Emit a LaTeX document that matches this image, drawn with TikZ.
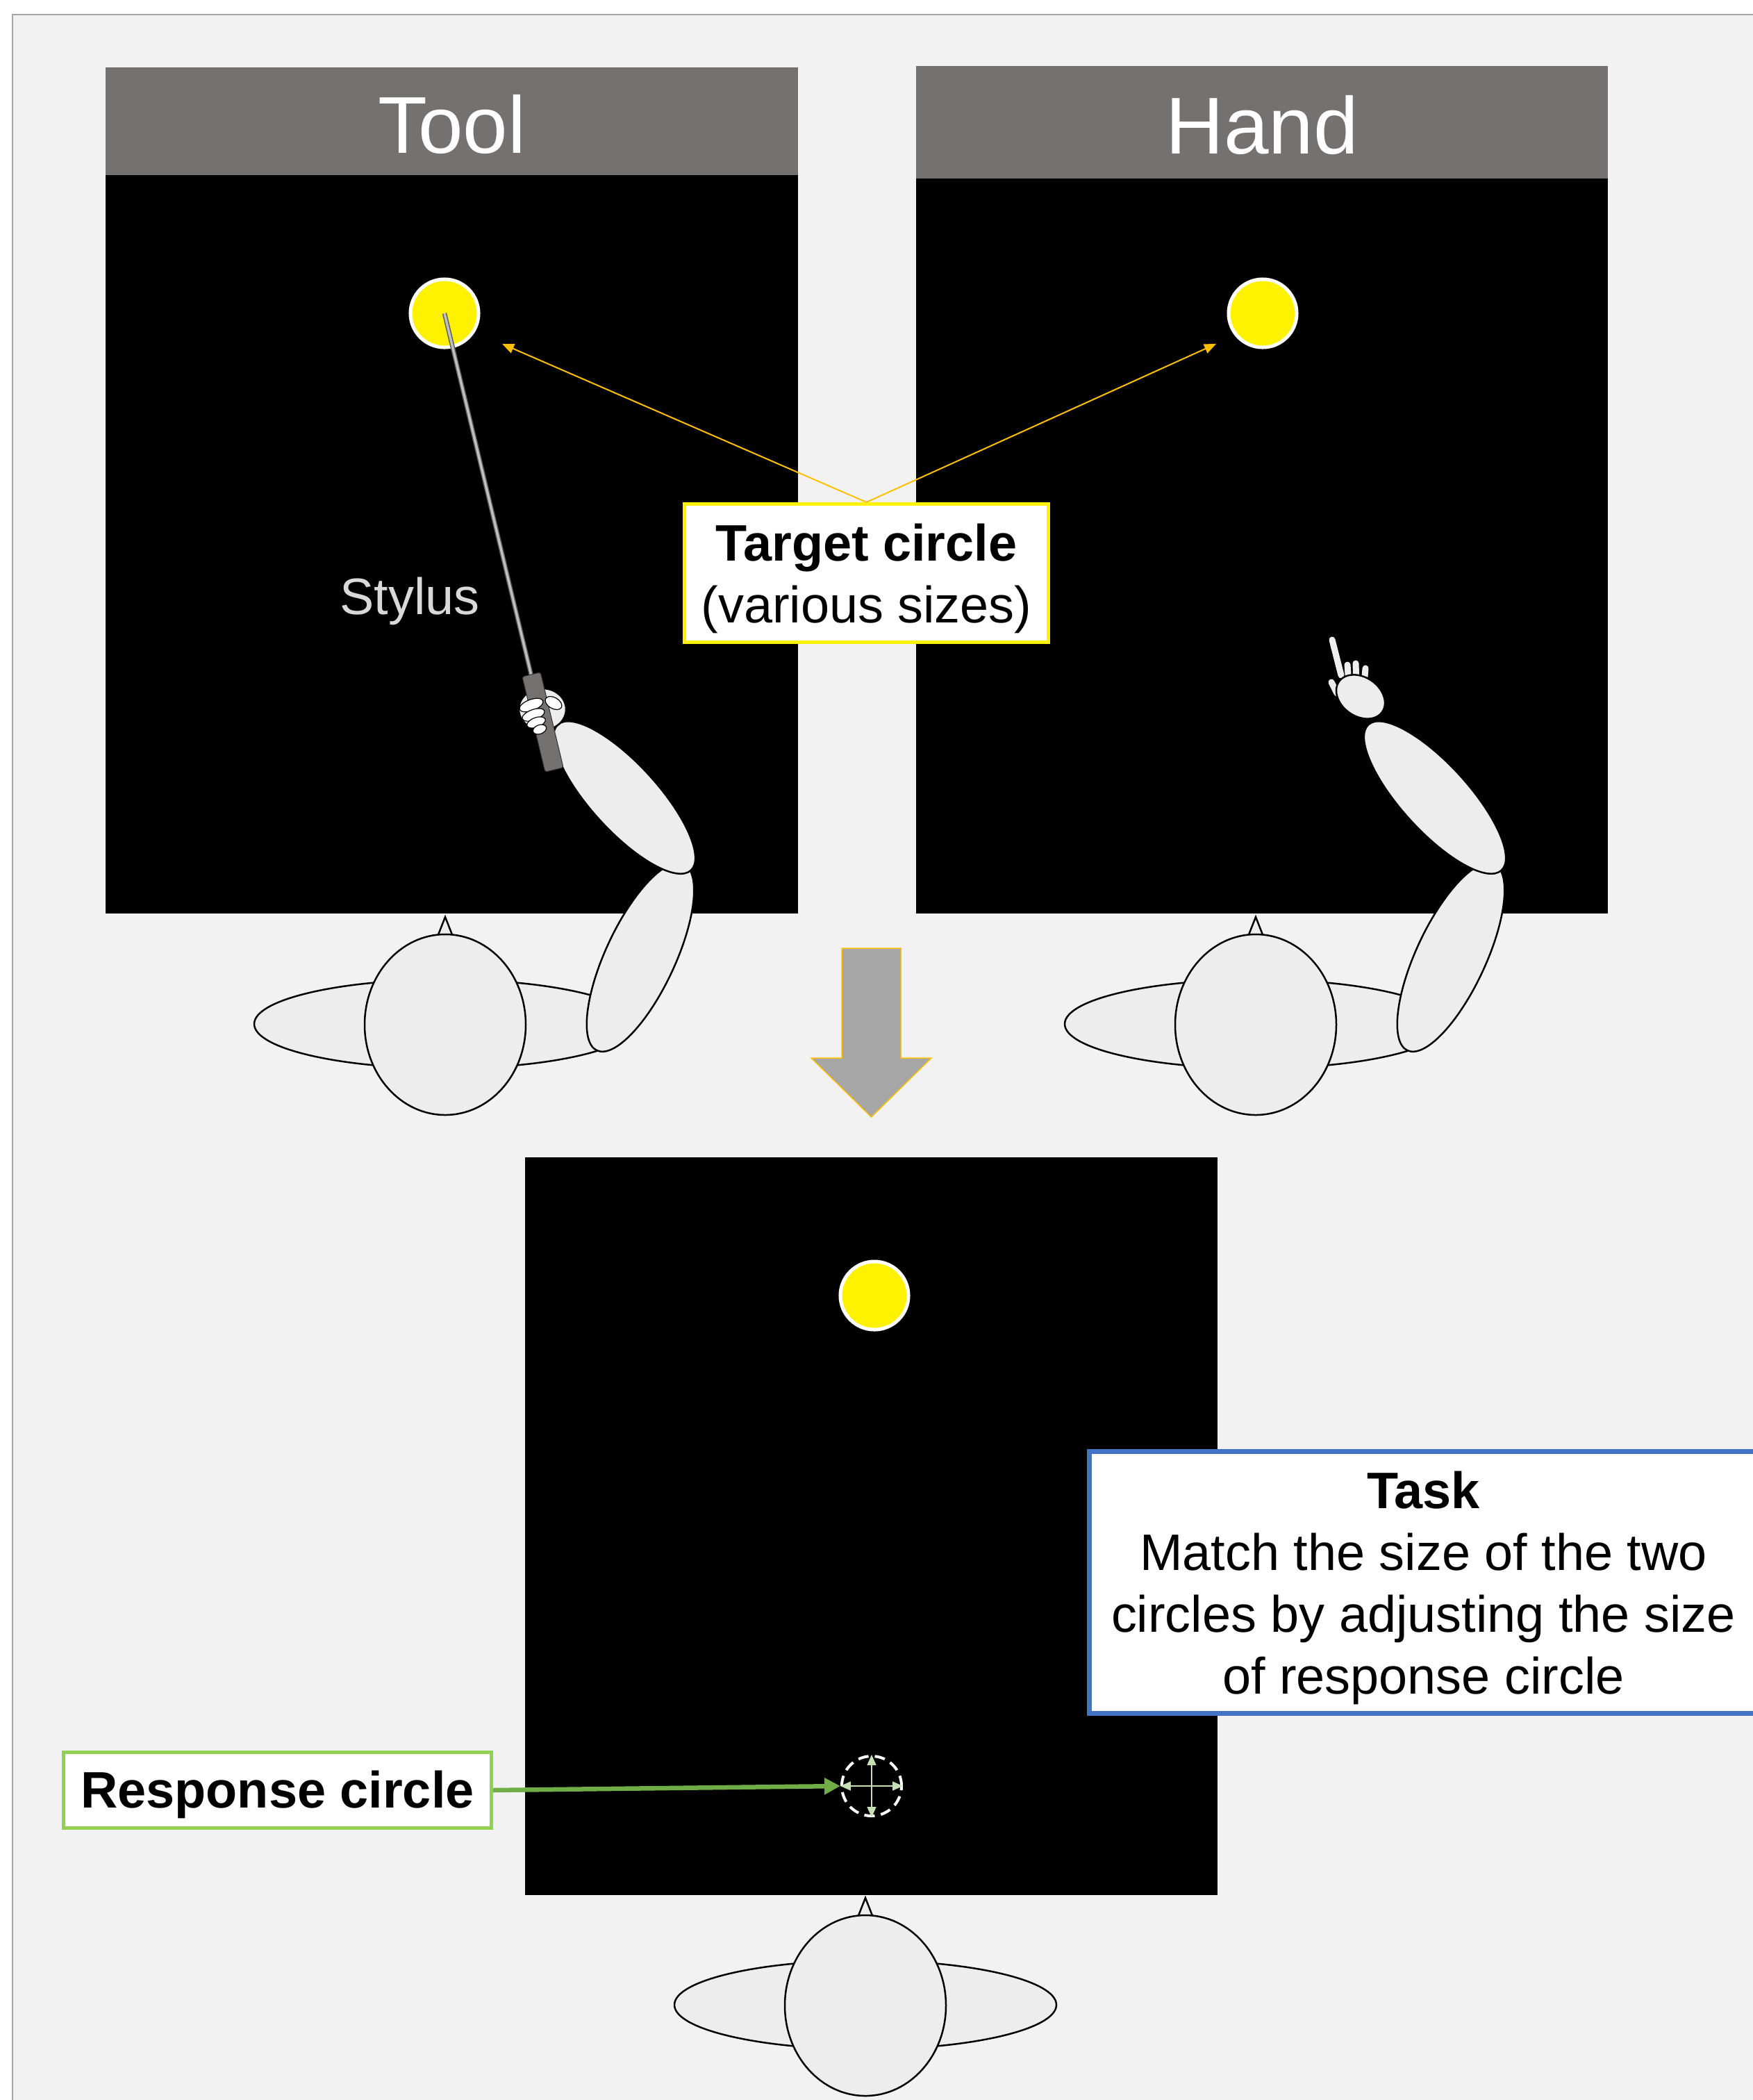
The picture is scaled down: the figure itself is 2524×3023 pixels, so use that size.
\documentclass[tikz,border=0pt]{standalone}
\usepackage{fontspec}
\setmainfont{Liberation Sans}
\usetikzlibrary{arrows.meta}

\definecolor{pagebg}{HTML}{F2F2F2}
\definecolor{framegray}{HTML}{A6A6A6}
\definecolor{headgray}{HTML}{767171}
\definecolor{bodygray}{HTML}{EDEDED}
\definecolor{gold}{HTML}{FFC000}
\definecolor{taskblue}{HTML}{4472C4}
\definecolor{respgreen}{HTML}{92D050}
\definecolor{arrowgreen}{HTML}{70AD47}
\definecolor{palegreen}{HTML}{C5E0B4}
\definecolor{shaftgray}{HTML}{BFBFBF}
\definecolor{shaftedge}{HTML}{595959}
\definecolor{gripgray}{HTML}{767171}
\definecolor{textgray}{HTML}{D9D9D9}

\tikzset{
  % top view of a seated person: shoulders, nose and head
  person/.pic={
    \draw[bodypart] (0,-1) ellipse [x radius=275, y radius=64];
    \draw[bodypart] (-11,-127) -- (0,-155) -- (11,-127) -- cycle;
    \draw[bodypart] (0,0) ellipse [x radius=116, y radius=130];
  },
  bodypart/.style={draw=black, fill=bodygray, line width=0.025cm},
  headerbar/.style={fill=headgray, inner sep=0, text=white,
    font=\fontsize{33}{40}\selectfont, text height=0.91cm, text depth=0cm},
  tgtdot/.style={circle, fill=yellow, draw=white, line width=0.05cm,
    minimum size=0.98cm, inner sep=0},
  callout/.style={fill=white, inner sep=0, align=center,
    font=\fontsize{21}{25.3}\selectfont},
  fingertip/.style={draw=black, fill=white, line width=0.012cm},
  digitline/.style={draw=bodygray, line width=0.09cm, line cap=round},
  goldarrow/.style={draw=gold, line width=0.02cm,
    -{Triangle[length=0.17cm, width=0.14cm]}},
  crossarrow/.style={draw=palegreen, line width=0.015cm,
    {Triangle[length=0.15cm, width=0.13cm]}-{Triangle[length=0.15cm, width=0.13cm]}},
}
% strut that lowers the first line of a callout a little
\newcommand{\topstrut}{\rule{0pt}{0.69cm}}

\begin{document}
\begin{tikzpicture}[x=0.01cm, y=-0.01cm]
\useasboundingbox (0,0) rectangle (2524,3023);
\clip (0,0) rectangle (2524,3023);
\fill[white] (0,0) rectangle (2524,3023);

% slide background
\draw[fill=pagebg, draw=framegray, line width=0.025cm] (18,21) rectangle (2600,3100);

% ---------- upper screens ----------
\node[headerbar, minimum width=9.97cm, minimum height=1.55cm] (toolhead) at (650.5,174.5) {Tool};
\fill[black] (152,252) rectangle (1149,1315);

\node[headerbar, minimum width=9.96cm, minimum height=1.62cm] (handhead) at (1817,176) {Hand};
\fill[black] (1319,257) rectangle (2315,1315);

\node[tgtdot] (tgtL) at (640,451) {};
\node[tgtdot] (tgtR) at (1818,451) {};

\node[text=textgray, font=\fontsize{21}{25}\selectfont] (stylus) at (590,865) {Stylus};

% stylus shaft
\coordinate (gripTop) at (768,985);
\draw[line width=0.065cm, shaftedge] (tgtL.center) -- (gripTop);
\draw[line width=0.035cm, shaftgray] (tgtL.center) -- (gripTop);

% ---------- left person holding the stylus ----------
\pic at (641,1475) {person};
\draw[bodypart, rotate around={65:(922,1378)}] (922,1378) ellipse [x radius=148, y radius=50];
\draw[bodypart, rotate around={-47.6:(899,1148)}] (899,1148) ellipse [x radius=142, y radius=48];
\draw[bodypart] (781,1021) ellipse [x radius=34, y radius=30];
\draw[fill=gripgray, draw=black!80, line width=0.01cm, rounded corners=0.03cm,
  rotate around={-76.5:(781.5,1039.5)}] (711,1026) rectangle (852,1053);
\draw[fingertip, rotate around={20:(765,1015)}] (765,1015) ellipse [x radius=18, y radius=8];
\draw[fingertip, rotate around={20:(768,1029)}] (768,1029) ellipse [x radius=17, y radius=7.5];
\draw[fingertip, rotate around={20:(772,1040)}] (772,1040) ellipse [x radius=14, y radius=7];
\draw[fingertip, rotate around={20:(777,1050)}] (777,1050) ellipse [x radius=10, y radius=6.5];
\draw[fingertip, rotate around={-30:(797,1012)}] (797,1012) ellipse [x radius=13, y radius=8];

% ---------- right person pointing with the finger ----------
\pic at (1808,1475) {person};
\begin{scope}[shift={(1167,0)}]
  \draw[bodypart, rotate around={65:(922,1378)}] (922,1378) ellipse [x radius=148, y radius=50];
  \draw[bodypart, rotate around={-47.6:(899,1148)}] (899,1148) ellipse [x radius=142, y radius=48];
\end{scope}
\draw[digitline] (1918,921) -- (1931,972);
\draw[digitline] (1940,957) -- (1942,985);
\draw[digitline] (1952,955) -- (1953,985);
\draw[digitline] (1966,962) -- (1964,985);
\draw[digitline] (1917,982) -- (1925,998);
\draw[bodypart, rotate around={-35:(1959,1003)}] (1959,1003) ellipse [x radius=38, y radius=28];

% ---------- target callout ----------
\node[callout, draw=yellow, line width=0.05cm, minimum width=5.24cm, minimum height=1.99cm]
  (tbox) at (1247.5,825) {\topstrut\textbf{Target circle}\\(various sizes)};
\coordinate (aimL) at (723,495);
\coordinate (aimR) at (1751,495);
\draw[goldarrow] (tbox.north) -- (aimL);
\draw[goldarrow] (tbox.north) -- (aimR);

% ---------- transition arrow ----------
\draw[fill=framegray, draw=gold, line width=0.015cm]
  (1212,1365) -- (1297,1365) -- (1297,1523) -- (1341,1523) -- (1254.5,1608)
  -- (1168,1523) -- (1212,1523) -- cycle;

% ---------- response screen ----------
\fill[black] (756,1666) rectangle (1753,2728);
\node[tgtdot] (tgtB) at (1259,1865) {};

\node[circle, draw=white, line width=0.04cm, dash pattern=on 0.15cm off 0.09cm,
  minimum size=0.86cm, inner sep=0] (rc) at (1255,2571) {};
\draw[crossarrow] (rc.west) -- (rc.east);
\draw[crossarrow] (rc.north) -- (rc.south);

\node[callout, draw=respgreen, line width=0.05cm, minimum width=6.16cm, minimum height=1.09cm,
  font=\fontsize{21}{25.3}\selectfont\bfseries, text height=0.67cm, text depth=0.155cm]
  (resp) at (399.5,2577) {Response circle};
\draw[arrowgreen, line width=0.065cm, -{Triangle[length=0.23cm, width=0.23cm]}] (resp.east) -- (rc.west);

\node[callout, draw=taskblue, line width=0.065cm, minimum width=9.61cm, minimum height=3.77cm]
  (task) at (2049.5,2278)
  {\topstrut\textbf{Task}\\Match the size of the two\\circles by adjusting the size\\of response circle};

\pic at (1246,2887) {person};
\end{tikzpicture}
\end{document}
